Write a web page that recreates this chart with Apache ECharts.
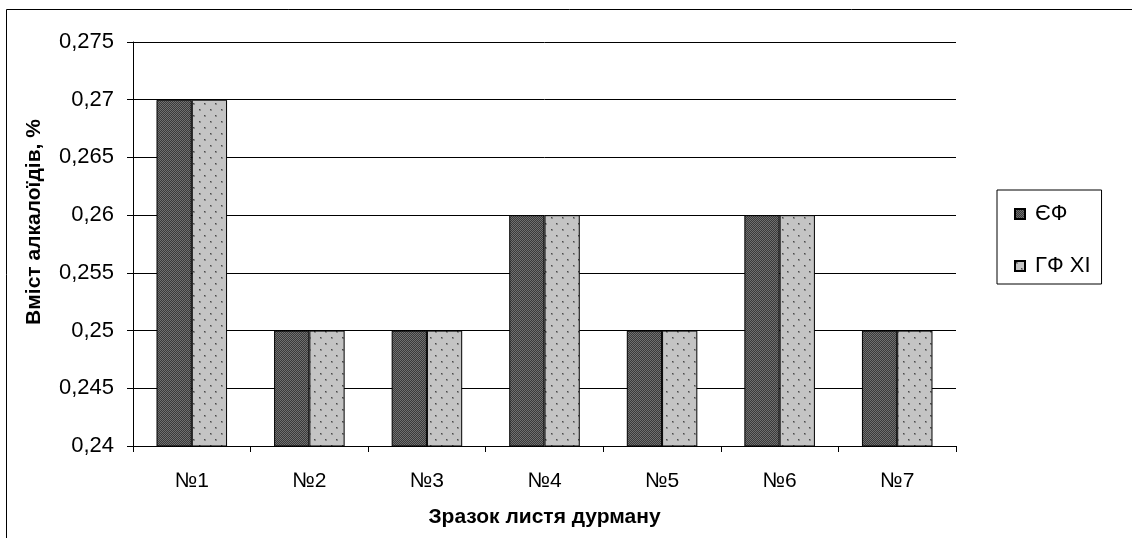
<!DOCTYPE html>
<html><head><meta charset="utf-8">
<script src="https://cdn.jsdelivr.net/npm/echarts@6/dist/echarts.min.js"></script>
<style>html,body{margin:0;padding:0;background:#fff}#c{width:1132px;height:538px}</style>
</head><body><div id="c"></div>
<script>
const categories = ['№1','№2','№3','№4','№5','№6','№7'];
const seriesNames = ['ЄФ','ГФ XI'];
const valuesEF = [0.27,0.25,0.25,0.26,0.25,0.26,0.25];
const valuesGF = [0.27,0.25,0.25,0.26,0.25,0.26,0.25];
const yMin = 0.24, yMax = 0.275, yStep = 0.005;

function darkPattern(){
  const c=document.createElement('canvas');c.width=4;c.height=4;const g=c.getContext('2d');
  g.fillStyle='#3a3a3a';g.fillRect(0,0,4,4);
  g.fillStyle='#707070';
  for(let y=0;y<4;y++)for(let x=0;x<4;x++){if((x+y)%2===0)g.fillRect(x,y,1,1);}
  return c;
}
function lightPattern(){
  const c=document.createElement('canvas');c.width=11;c.height=12;const g=c.getContext('2d');
  g.fillStyle='#c4c4c4';g.fillRect(0,0,11,12);
  g.fillStyle='#8c8c8c';
  g.fillRect(1,1,2,2);g.fillRect(6,7,2,2);
  g.fillStyle='#4a4a4a';
  g.fillRect(1,1,1,1);g.fillRect(6,7,1,1);
  return c;
}
const chart = echarts.init(document.getElementById('c'));
const font = '"Liberation Sans", Arial, sans-serif';
chart.setOption({
  animation:false,
  backgroundColor:'#fff',
  graphic:[{type:'rect',shape:{x:6.5,y:9.5,width:1200,height:600},style:{fill:'none',stroke:'#000',lineWidth:1},z:-1}],
  grid:{left:133,right:176,top:42,bottom:92},
  legend:{
    orient:'vertical',left:997,top:190,
    padding:[13,11,7,17],itemGap:30,
    borderColor:'#000',borderWidth:1,
    itemWidth:10,itemHeight:10,
    textStyle:{fontFamily:font,fontSize:22,color:'#000',padding:[0,0,0,5]},
    data:seriesNames.map(n=>({name:n,icon:'rect'}))
  },
  xAxis:{
    type:'category',data:categories,
    axisLine:{lineStyle:{color:'#000'}},
    axisTick:{show:true,alignWithLabel:false,length:6,lineStyle:{color:'#000'}},
    axisLabel:{fontFamily:font,fontSize:21,color:'#000',margin:25},
    name:'Зразок листя дурману',nameLocation:'middle',nameGap:61,
    nameTextStyle:{fontFamily:font,fontSize:21,fontWeight:'bold',color:'#000'}
  },
  yAxis:{
    type:'value',min:yMin,max:yMax,interval:yStep,
    axisLine:{show:true,lineStyle:{color:'#000'}},
    axisTick:{show:true,length:6,lineStyle:{color:'#000'}},
    splitLine:{lineStyle:{color:'#000'}},
    axisLabel:{fontFamily:font,fontSize:22,color:'#000',margin:19,
      formatter:v=>String(+v.toFixed(3)).replace('.',',')},
    name:'Вміст алкалоїдів, %',nameLocation:'middle',nameGap:88,
    nameTextStyle:{fontFamily:font,fontSize:21,fontWeight:'bold',color:'#000',padding:[0,0,0,44]}
  },
  series:[
    {name:seriesNames[0],type:'bar',data:valuesEF,barGap:'0%',barCategoryGap:'40%',
     itemStyle:{color:{image:darkPattern(),repeat:'repeat'},borderColor:'#000',borderWidth:1}},
    {name:seriesNames[1],type:'bar',data:valuesGF,barGap:'0%',barCategoryGap:'40%',
     itemStyle:{color:{image:lightPattern(),repeat:'repeat'},borderColor:'#000',borderWidth:1}}
  ]
});
</script></body></html>
